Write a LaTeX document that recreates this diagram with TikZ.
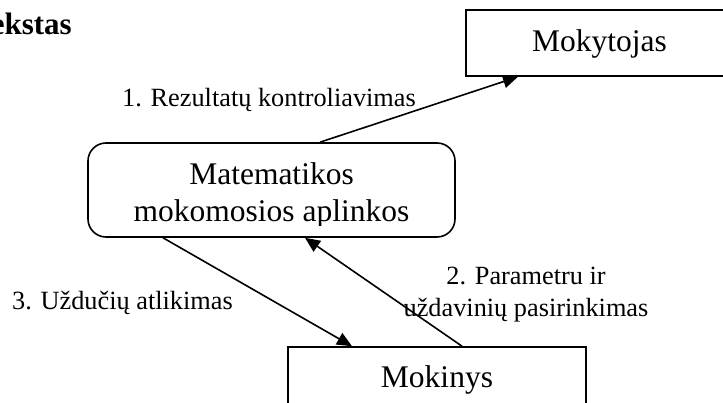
\documentclass[tikz,border=0pt]{standalone}
\usepackage{fontspec}
\setmainfont{Liberation Serif}
\usetikzlibrary{arrows.meta}
\begin{document}
\begin{tikzpicture}[x=1pt,y=-1pt,
  box/.style={draw, line width=1.6pt, inner sep=0pt},
  flow/.style={line width=1.6pt, -{Triangle[length=15pt,width=13pt]}},
  boxtext/.style={font=\fontsize{31.5}{37}\selectfont, inner sep=0pt, anchor=base},
  lbl/.style={font=\fontsize{26.3}{32}\selectfont, inner sep=0pt}]
\useasboundingbox (0,0) rectangle (723,403);

% heading (runs off the left edge of the page)
\node[font=\fontsize{31}{36}\selectfont\bfseries, anchor=base east, inner sep=0pt] (title) at (72,35) {ekstas};

% boxes
\node[box, minimum width=267pt, minimum height=66pt] (teacher) at (599.5,43) {};
\node[boxtext] (teachertext) at (599.5,52) {Mokytojas};

\node[box, rounded corners=18pt, minimum width=367pt, minimum height=94pt] (env) at (271.5,190) {};
\begin{scope}
  \clip (88,143) rectangle (455,225.5);
  \node[boxtext] (envline1) at (271.5,185) {Matematikos};
  \node[boxtext] (envline2) at (271.5,222) {mokomosios aplinkos};
\end{scope}

\node[box, minimum width=298pt, minimum height=80pt] (student) at (437,387) {};
\node[boxtext] (studenttext) at (437,387) {Mokinys};

% connector labels
\node[lbl, anchor=base west] (l1) at (122,107) {1. Rezultatų kontroliavimas};
\node[lbl, anchor=base west] (l3) at (12,310) {3. Uždučių atlikimas};
\node[lbl, anchor=base] (l2a) at (526,285) {2. Parametru ir};
\node[lbl, anchor=base] (l2b) at (526,317) {uždavinių pasirinkimas};

% connectors
\draw[flow] ([xshift=48.5pt]env.north) -- ([xshift=-81.5pt]teacher.south);
\draw[flow] ([xshift=-108.5pt]env.south) -- ([xshift=-85pt]student.north);
\draw[flow] ([xshift=25pt]student.north) -- ([xshift=33.5pt]env.south);
\end{tikzpicture}
\end{document}
